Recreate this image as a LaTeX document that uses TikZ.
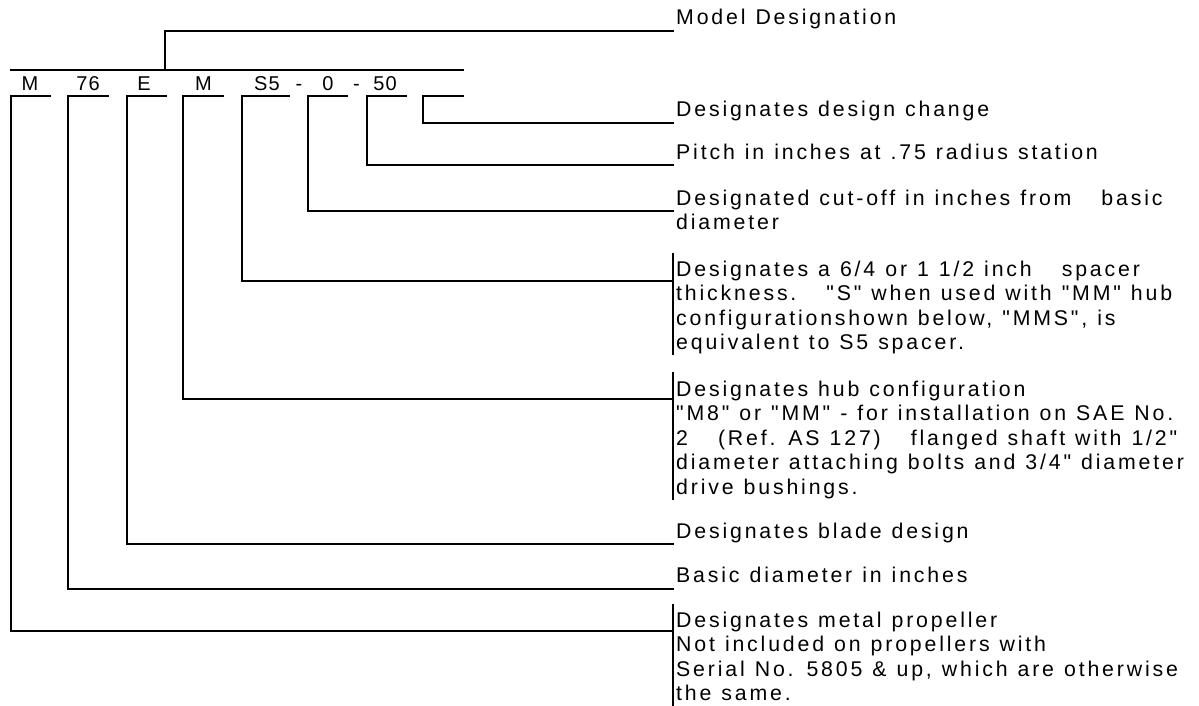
\documentclass[tikz,border=0pt]{standalone}
\usepackage{fontspec}
\newfontfamily\lblfont{Liberation Sans}[LetterSpace=13.3]
\newfontfamily\codefont{Liberation Sans}[LetterSpace=6]
\newcommand{\gapsp}{\ \ \ }
\newcommand{\lblsetup}{\lblfont\fontsize{21.3}{24.5}\selectfont\spaceskip=10pt plus 0pt minus 0pt\relax}
\begin{document}
\begin{tikzpicture}[x=1pt,y=-1pt,
  lbl/.style={inner sep=0pt,anchor=base west,font=\lblsetup},
  code/.style={inner sep=0pt,anchor=base,font=\codefont\fontsize{20}{22}\selectfont},
  ln/.style={line width=1.8pt,line cap=rect}]
\useasboundingbox (0,0) rectangle (1199,706);
% code letters
\node[code] (c1) at (30,91) {M};
\node[code] (c2) at (88,91) {76};
\node[code] (c3) at (144,91) {E};
\node[code] (c4) at (203.5,91) {M};
\node[code] (c5) at (267,91) {S5};
\node[code] (d1) at (299,91) {-};
\node[code] (c6) at (328,91) {0};
\node[code] (d2) at (356.5,91) {-};
\node[code] (c7) at (385,91) {50};
% labels
\node[lbl] (l0) at (676,25) {Model Designation};
\node[lbl] (l8) at (676,117) {Designates design change};
\node[lbl] (l7) at (676,159) {Pitch in inches at .75 radius station};
\node[lbl] (l6) at (676,205) {\begin{tabular}[t]{@{}l@{}}Designated cut-off in inches from\gapsp basic\\ diameter\end{tabular}};
\node[lbl] (l5) at (676,276) {\begin{tabular}[t]{@{}l@{}}Designates a 6/4 or 1 1/2 inch\gapsp spacer\\ thickness.\gapsp "S" when used with "MM" hub\\ configurationshown below, "MMS", is\\ equivalent to S5 spacer.\end{tabular}};
\node[lbl] (l4) at (676,396) {\begin{tabular}[t]{@{}l@{}}Designates hub configuration\\ "M8" or "MM" - for installation on SAE No.\\ 2\gapsp (Ref. AS 127)\gapsp flanged shaft with 1/2"\\ diameter attaching bolts and 3/4" diameter\\ drive bushings.\end{tabular}};
\node[lbl] (l3) at (676,538) {Designates blade design};
\node[lbl] (l2) at (676,582) {Basic diameter in inches};
\node[lbl] (l1) at (676,627) {\begin{tabular}[t]{@{}l@{}}Designates metal propeller\\ Not included on propellers with\\ Serial No. 5805 \& up, which are otherwise\\ the same.\end{tabular}};
% coordinates
\coordinate (top) at (165,70);
\coordinate (e0) at (673,31);
\coordinate (la) at (11,70);
\coordinate (lb) at (463,70);
\foreach \n/\a/\b in {1/11/50,2/68/108,3/127/166,4/183/223,5/242/289,6/308/347,7/367/406,8/423/463}{
  \coordinate (u\n) at (\a,96);
  \coordinate (v\n) at (\b,96);
}
\foreach \n/\y in {1/631,2/589,3/544,4/399,5/281,6/211,7/165,8/123}{
  \coordinate (e\n) at (673,\y);
}
% bars for multi-line labels
\coordinate (b5a) at (673,254); \coordinate (b5b) at (673,354);
\coordinate (b4a) at (673,373); \coordinate (b4b) at (673,499);
\coordinate (b1a) at (673,605); \coordinate (b1b) at (673,706);
% drawing
\draw[ln] (la) -- (lb);
\draw[ln] (top) |- (e0);
\foreach \n in {1,...,8}{
  \draw[ln] (u\n) -- (v\n);
  \draw[ln] (u\n) |- (e\n);
}
\draw[ln] (b5a) -- (b5b);
\draw[ln] (b4a) -- (b4b);
\draw[ln] (b1a) -- (b1b);
\end{tikzpicture}
\end{document}
